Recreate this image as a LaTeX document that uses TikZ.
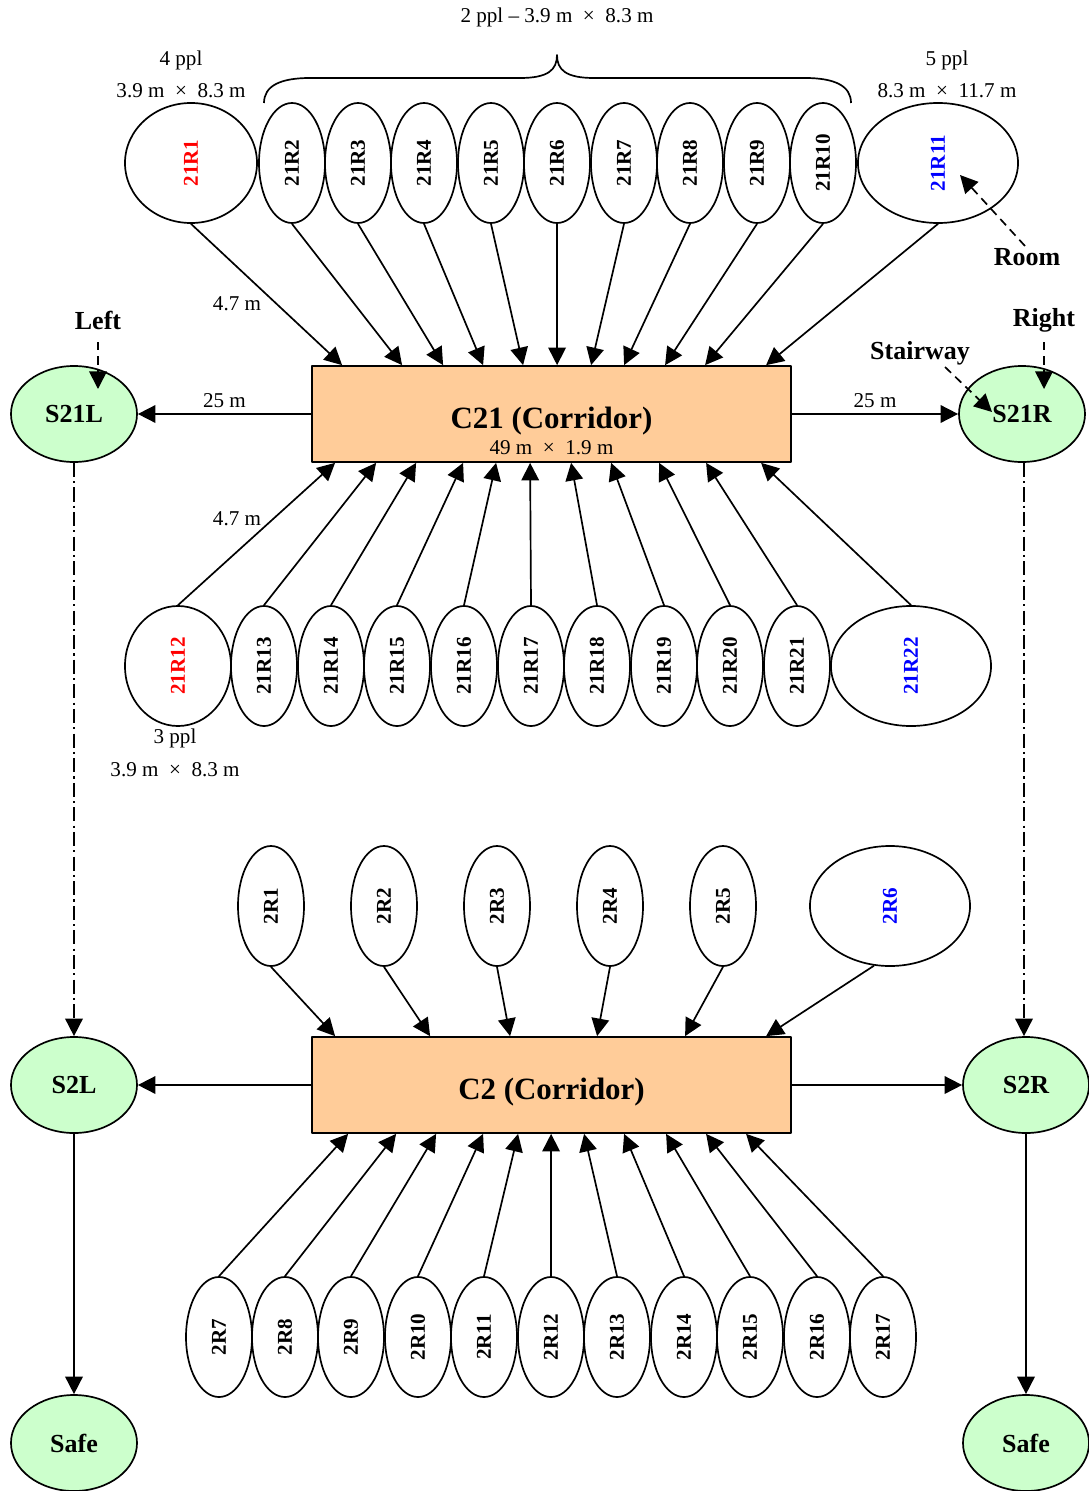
\documentclass[tikz,border=0pt]{standalone}
\usepackage{fontspec}
\setmainfont{Liberation Serif}
\usepackage{xcolor}
\usepackage{tikz}
\usetikzlibrary{calc,positioning,shapes.geometric,arrows.meta}
\definecolor{corr}{HTML}{FFCC99}
\definecolor{stairgreen}{HTML}{CCFFCC}
\definecolor{bigred}{HTML}{FF0000}
\definecolor{bigblue}{HTML}{0000FF}
\newcommand{\RoomFont}{\fontsize{15}{18}\selectfont\bfseries}
\newcommand{\TagFont}{\fontsize{18.5}{22}\selectfont\bfseries}
\newcommand{\CorrFont}{\fontsize{22}{26}\selectfont\bfseries}
\newcommand{\DimFont}{\fontsize{15}{18}\selectfont}
\newcommand{\RoomTag}[1]{\rotatebox{90}{#1}}
\tikzset{
  Room/.style={
    draw, ellipse, line width=1.2pt,
    inner sep=0pt, minimum width=1.65cm, minimum height=3cm,
    font=\RoomFont
  },
  Stair/.style={
    draw, ellipse, line width=1.2pt, fill=stairgreen,
    inner sep=0pt, minimum width=3.15cm, minimum height=2.4cm,
    font=\TagFont
  },
  Corridor/.style={
    draw, rectangle, line width=1.2pt, fill=corr,
    minimum width=11.975cm, minimum height=2.4cm,
    text height=0.7cm, text depth=0pt,
    font=\CorrFont
  },
  Dim/.style={font=\DimFont, inner sep=1pt},
  Tag/.style={font=\TagFont, inner sep=2pt},
  Flow/.style={line width=1.2pt, -{Triangle[length=12.5pt,width=12.5pt]}},
  Hint/.style={Flow, dash pattern=on 6pt off 4pt},
  Shaft/.style={Flow, dash pattern=on 10pt off 3pt on 1.5pt off 3pt}
}

\begin{document}
\begin{tikzpicture}[x=0.025cm, y=-0.025cm, line cap=butt, line join=round]
  \useasboundingbox (0,0) rectangle (1088,1491);

  % corridors and stairways
  \node[Corridor] (C21) at (551.5,414) {C21 (Corridor)};
  \node[Dim] (C21size) at ($(C21.center)+(0,34)$) {49 m~~×~~1.9 m};
  \node[Corridor] (C2) at (551.5,1085) {C2 (Corridor)};

  \node[Stair] (S21L) at (74,414) {S21L};
  \node[Stair] (S21R) at (1022,414) {S21R};
  \node[Stair] (S2L) at (74,1085) {S2L};
  \node[Stair] (S2R) at (1026,1085) {S2R};
  \node[Stair] (SafeL) at (74,1443) {Safe};
  \node[Stair] (SafeR) at (1026,1443) {Safe};

  % floor 21, upper rooms
  \node[Room, minimum width=3.3cm] (n21R1) at (191,163) {\RoomTag{\textcolor{bigred}{21R1}}};
  \node[Room] (n21R2) at (292,163) {\RoomTag{21R2}};
  \node[Room] (n21R3) at (358,163) {\RoomTag{21R3}};
  \node[Room] (n21R4) at (424,163) {\RoomTag{21R4}};
  \node[Room] (n21R5) at (491,163) {\RoomTag{21R5}};
  \node[Room] (n21R6) at (557,163) {\RoomTag{21R6}};
  \node[Room] (n21R7) at (624,163) {\RoomTag{21R7}};
  \node[Room] (n21R8) at (690,163) {\RoomTag{21R8}};
  \node[Room] (n21R9) at (757,163) {\RoomTag{21R9}};
  \node[Room] (n21R10) at (823,163) {\RoomTag{21R10}};
  \node[Room, minimum width=4cm] (n21R11) at (938,163) {\RoomTag{\textcolor{bigblue}{21R11}}};

  % floor 21, lower rooms
  \node[Room, minimum width=2.65cm] (n21R12) at (178,666) {\RoomTag{\textcolor{bigred}{21R12}}};
  \node[Room] (n21R13) at (264,666) {\RoomTag{21R13}};
  \node[Room] (n21R14) at (331,666) {\RoomTag{21R14}};
  \node[Room] (n21R15) at (397,666) {\RoomTag{21R15}};
  \node[Room] (n21R16) at (464,666) {\RoomTag{21R16}};
  \node[Room] (n21R17) at (531,666) {\RoomTag{21R17}};
  \node[Room] (n21R18) at (597,666) {\RoomTag{21R18}};
  \node[Room] (n21R19) at (664,666) {\RoomTag{21R19}};
  \node[Room] (n21R20) at (730,666) {\RoomTag{21R20}};
  \node[Room] (n21R21) at (797,666) {\RoomTag{21R21}};
  \node[Room, minimum width=4cm] (n21R22) at (911,666) {\RoomTag{\textcolor{bigblue}{21R22}}};

  % floor 2, upper rooms
  \node[Room] (n2R1) at (271,906) {\RoomTag{2R1}};
  \node[Room] (n2R2) at (384,906) {\RoomTag{2R2}};
  \node[Room] (n2R3) at (497,906) {\RoomTag{2R3}};
  \node[Room] (n2R4) at (610,906) {\RoomTag{2R4}};
  \node[Room] (n2R5) at (723,906) {\RoomTag{2R5}};
  \node[Room, minimum width=4cm] (n2R6) at (890,906) {\RoomTag{\textcolor{bigblue}{2R6}}};

  % floor 2, lower rooms
  \node[Room] (n2R7) at (219,1337) {\RoomTag{2R7}};
  \node[Room] (n2R8) at (285,1337) {\RoomTag{2R8}};
  \node[Room] (n2R9) at (351,1337) {\RoomTag{2R9}};
  \node[Room] (n2R10) at (418,1337) {\RoomTag{2R10}};
  \node[Room] (n2R11) at (484,1337) {\RoomTag{2R11}};
  \node[Room] (n2R12) at (551,1337) {\RoomTag{2R12}};
  \node[Room] (n2R13) at (617,1337) {\RoomTag{2R13}};
  \node[Room] (n2R14) at (684,1337) {\RoomTag{2R14}};
  \node[Room] (n2R15) at (750,1337) {\RoomTag{2R15}};
  \node[Room] (n2R16) at (817,1337) {\RoomTag{2R16}};
  \node[Room] (n2R17) at (883,1337) {\RoomTag{2R17}};

  % rooms into C21
  \draw[Flow] (n21R1.south) -- ($(C21.north west)+(31,0)$);
  \draw[Flow] (n21R2.south) -- ($(C21.north west)+(91,0)$);
  \draw[Flow] (n21R3.south) -- ($(C21.north west)+(132,0)$);
  \draw[Flow] (n21R4.south) -- ($(C21.north west)+(172,0)$);
  \draw[Flow] (n21R5.south) -- ($(C21.north west)+(212,0)$);
  \draw[Flow] (n21R6.south) -- ($(C21.north west)+(246,0)$);
  \draw[Flow] (n21R7.south) -- ($(C21.north west)+(280,0)$);
  \draw[Flow] (n21R8.south) -- ($(C21.north west)+(313,0)$);
  \draw[Flow] (n21R9.south) -- ($(C21.north west)+(354,0)$);
  \draw[Flow] (n21R10.south) -- ($(C21.north west)+(394,0)$);
  \draw[Flow] (n21R11.south) -- ($(C21.north west)+(455,0)$);
  \draw[Flow] (n21R12.north) -- ($(C21.south west)+(24,0)$);
  \draw[Flow] (n21R13.north) -- ($(C21.south west)+(65,0)$);
  \draw[Flow] (n21R14.north) -- ($(C21.south west)+(105,0)$);
  \draw[Flow] (n21R15.north) -- ($(C21.south west)+(152,0)$);
  \draw[Flow] (n21R16.north) -- ($(C21.south west)+(185,0)$);
  \draw[Flow] (n21R17.north) -- ($(C21.south west)+(219,0)$);
  \draw[Flow] (n21R18.north) -- ($(C21.south west)+(260,0)$);
  \draw[Flow] (n21R19.north) -- ($(C21.south west)+(300,0)$);
  \draw[Flow] (n21R20.north) -- ($(C21.south west)+(348,0)$);
  \draw[Flow] (n21R21.north) -- ($(C21.south west)+(395,0)$);
  \draw[Flow] (n21R22.north) -- ($(C21.south west)+(450,0)$);

  % rooms into C2
  \draw[Flow] (n2R1.south) -- ($(C2.north west)+(24,0)$);
  \draw[Flow] (n2R2.south) -- ($(C2.north west)+(119,0)$);
  \draw[Flow] (n2R3.south) -- ($(C2.north west)+(199,0)$);
  \draw[Flow] (n2R4.south) -- ($(C2.north west)+(286,0)$);
  \draw[Flow] (n2R5.south) -- ($(C2.north west)+(374,0)$);
  \draw[Flow] (n2R6.255) -- ($(C2.north west)+(455,0)$);
  \draw[Flow] (n2R7.north) -- ($(C2.south west)+(37,0)$);
  \draw[Flow] (n2R8.north) -- ($(C2.south west)+(85,0)$);
  \draw[Flow] (n2R9.north) -- ($(C2.south west)+(125,0)$);
  \draw[Flow] (n2R10.north) -- ($(C2.south west)+(172,0)$);
  \draw[Flow] (n2R11.north) -- ($(C2.south west)+(207,0)$);
  \draw[Flow] (n2R12.north) -- ($(C2.south west)+(240,0)$);
  \draw[Flow] (n2R13.north) -- ($(C2.south west)+(273,0)$);
  \draw[Flow] (n2R14.north) -- ($(C2.south west)+(313,0)$);
  \draw[Flow] (n2R15.north) -- ($(C2.south west)+(355,0)$);
  \draw[Flow] (n2R16.north) -- ($(C2.south west)+(395,0)$);
  \draw[Flow] (n2R17.north) -- ($(C2.south west)+(435,0)$);

  % corridors to stairways, stairways down
  \draw[Flow] (C21.west) -- (S21L.east) node[Dim, midway, above=3pt] (d25L) {25 m};
  \draw[Flow] (C21.east) -- (S21R.west) node[Dim, midway, above=3pt] (d25R) {25 m};
  \draw[Flow] (C2.west) -- (S2L.east);
  \draw[Flow] (C2.east) -- (S2R.west);
  \draw[Shaft] (S21L.south) -- (S2L.north);
  \draw[Shaft] ([xshift=2*0.025cm]S21R.south) -- ([xshift=-2*0.025cm]S2R.north);
  \draw[Flow] (S2L.south) -- (SafeL.north);
  \draw[Flow] (S2R.south) -- (SafeR.north);

  % sizes and occupants
  \node[Dim] (d47a) at (237,304) {4.7 m};
  \node[Dim] (d47b) at (237,519) {4.7 m};
  \node[Dim] (ppl1) at (181,60) {4 ppl};
  \node[Dim] (size1) at (181,91) {3.9 m~~×~~8.3 m};
  \node[Dim] (ppl11) at (947,60) {5 ppl};
  \node[Dim] (size11) at (947,91) {8.3 m~~×~~11.7 m};
  \node[Dim] (ppl12) at (175,738) {3 ppl};
  \node[Dim] (size12) at (175,770) {3.9 m~~×~~8.3 m};
  \node[Dim] (pplmid) at (557,17) {2 ppl -- 3.9 m~~×~~8.3 m};
  \draw[line width=1.2pt] (264,103) .. controls (264,86) and (280,78) .. (310,78)
    -- (520,78) .. controls (548,78) and (557,70) .. (557,55)
    .. controls (557,70) and (566,78) .. (594,78)
    -- (805,78) .. controls (835,78) and (851,86) .. (851,103);

  % hints
  \node[Tag] (lblLeft) at (98,320) {Left};
  \node[Tag] (lblRight) at (1044,320) {Right};
  \node[Tag] (lblStair) at (920,353) {Stairway};
  \node[Tag] (lblRoom) at (1027,257) {Room};
  \coordinate (tipLeft) at (98,389);
  \coordinate (tipRight) at (1044,389);
  \coordinate (tipStair) at (992,412);
  \coordinate (tipRoom) at (960,175);
  \draw[Hint] ([yshift=-22*0.025cm]lblLeft.center) -- (tipLeft);
  \draw[Hint] ([yshift=-22*0.025cm]lblRight.center) -- (tipRight);
  \draw[Hint] ($(lblStair.center)+(25,14)$) -- (tipStair);
  \draw[Hint] ($(lblRoom.center)+(-2,-11)$) -- (tipRoom);
\end{tikzpicture}
\end{document}
